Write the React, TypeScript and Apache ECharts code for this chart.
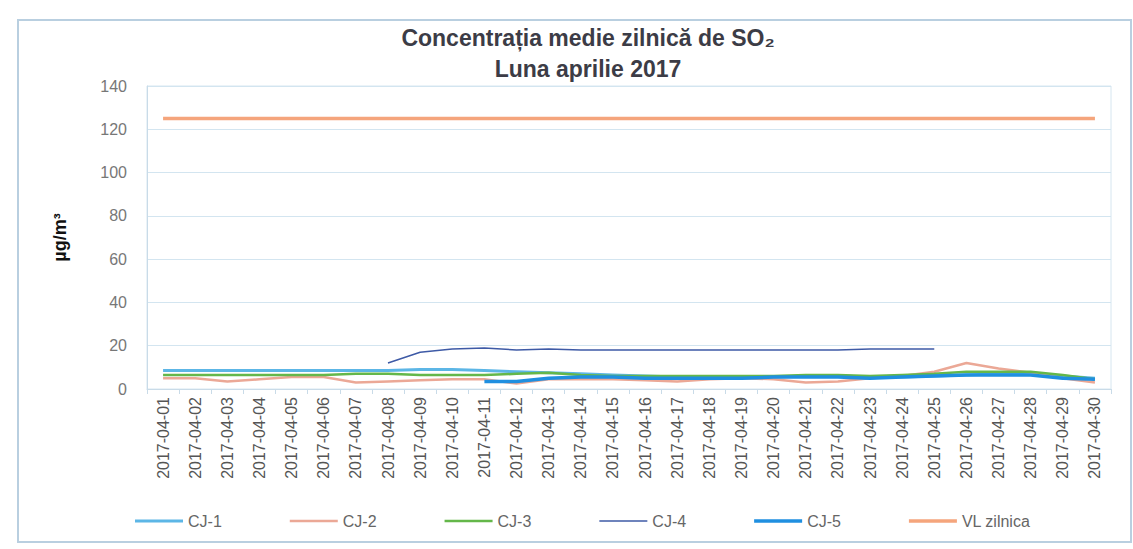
import React, { useEffect, useRef } from "react";
import * as echarts from "echarts";

const dates = Array.from({ length: 30 }, (_, i) => `2017-04-${String(i + 1).padStart(2, "0")}`);
const yTicks = [0, 20, 40, 60, 80, 100, 120, 140];
const seriesNames = ["CJ-1", "CJ-2", "CJ-3", "CJ-4", "CJ-5", "VL zilnica"];
const cj1 = [8.5, 8.5, 8.5, 8.5, 8.5, 8.5, 8.5, 8.5, 9, 9, 8.5, 8, 7.5, 7, 6.5, 6, 5.5, 5.5, 5.5, 5.5, 6, 6, 5.5, 5.5, 6, 6.5, 7, 7, 6, 5];
const cj2 = [5, 5, 3.5, 4.5, 5.5, 5.5, 3, 3.5, 4, 4.5, 4.5, 2.5, 4.5, 4.5, 4.5, 4, 3.5, 4.5, 5, 4.5, 3, 3.5, 5, 6, 8, 12, 9.5, 7.5, 5, 3];
const cj3 = [6.5, 6.5, 6.5, 6.5, 6.5, 6.5, 7, 7, 6.5, 6.5, 6.5, 7, 7.5, 6.5, 6, 6, 6, 6, 6, 6, 6.5, 6.5, 6, 6.5, 7, 8, 8, 8, 6.5, 4.5];
const cj4 = [null, null, null, null, null, null, null, 12, 17, 18.5, 19, 18, 18.5, 18, 18, 18, 18, 18, 18, 18, 18, 18, 18.5, 18.5, 18.5, null, null, null, null, null];
const cj5 = [null, null, null, null, null, null, null, null, null, null, 3.5, 3.5, 5, 5.5, 5.5, 5, 5, 5, 5, 5.5, 5.5, 5.5, 5, 5.5, 6, 6.5, 6.5, 6.5, 5, 4.5];
const vl = dates.map(() => 125);
const colors = ["#5cb6e6", "#eba896", "#64b74a", "#3e5aa6", "#1f8fe0", "#f5a57c"];
const widths = [3, 2.5, 2.5, 1.5, 3.5, 3.5];

export default function App() {
  const ref = useRef<HTMLDivElement>(null);
  useEffect(() => {
    document.body.style.margin = "0";
    const chart = echarts.init(ref.current!, null, { renderer: "svg" });
    const data = [cj1, cj2, cj3, cj4, cj5, vl];
    chart.setOption({
      animation: false,
      backgroundColor: "#ffffff",
      textStyle: { fontFamily: "Liberation Sans, Arial, sans-serif" },
      title: {
        text: "Concentrația medie zilnică de SO₂\nLuna aprilie 2017",
        left: 583,
        textAlign: "center",
        top: 17,
        textStyle: { fontSize: 23, fontWeight: "bold", color: "#3c3c46", lineHeight: 31 },
      },
      graphic: [
        {
          type: "rect",
          shape: { x: 18, y: 20, width: 1113, height: 522 },
          style: { fill: "none", stroke: "#b9cfe0", lineWidth: 2 },
        },
      ],
      legend: {
        bottom: 15,
        left: 130,
        itemWidth: 48,
        itemHeight: 10,
        itemGap: 68,
        textStyle: { fontSize: 16, color: "#666" },
        data: seriesNames.map((n, i) => ({
          name: n,
          icon: "path://M0,0 L48,0 L48," + widths[i] + " L0," + widths[i] + " Z",
        })),
      },
      grid: { left: 147, right: 22, top: 86, bottom: 160, show: true, borderColor: "#d6e6f0", borderWidth: 1 },
      xAxis: {
        type: "category",
        data: dates,
        boundaryGap: true,
        axisLine: { lineStyle: { color: "#c9dbe8" } },
        axisTick: { show: true, lineStyle: { color: "#c9dbe8" } },
        axisLabel: { rotate: 90, fontSize: 16, color: "#555", margin: 8, interval: 0 },
      },
      yAxis: {
        type: "value",
        min: yTicks[0],
        max: yTicks[yTicks.length - 1],
        interval: 20,
        name: "µg/m³",
        nameLocation: "middle",
        nameGap: 78,
        nameTextStyle: { fontSize: 18, fontWeight: "bold", color: "#111" },
        axisLine: { show: true, lineStyle: { color: "#c9dbe8" } },
        axisTick: { show: false },
        axisLabel: { fontSize: 16, color: "#777", margin: 20 },
        splitLine: { lineStyle: { color: "#d3e5f0" } },
      },
      series: seriesNames.map((n, i) => ({
        name: n,
        type: "line",
        data: data[i],
        symbol: "none",
        smooth: false,
        connectNulls: false,
        color: colors[i],
        lineStyle: { color: colors[i], width: widths[i] },
        z: i === 4 ? 3 : 2,
      })),
    });
    return () => chart.dispose();
  }, []);
  return <div ref={ref} style={{ width: 1133, height: 549 }} />;
}
